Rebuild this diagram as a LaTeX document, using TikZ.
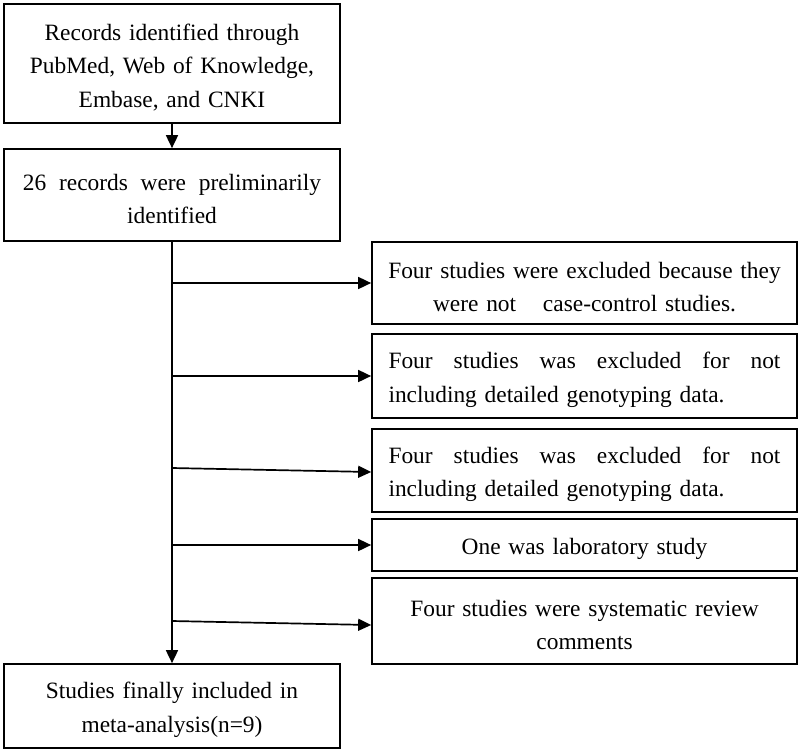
\documentclass[tikz,border=0pt]{standalone}
\usepackage{fontspec}
\setmainfont{Liberation Serif}
\usetikzlibrary{arrows.meta,calc}
\newcommand\tstr{\rule{0pt}{24pt}}
\begin{document}
\begin{tikzpicture}[x=1pt,y=-1pt,
  box/.style={draw,line width=1.7pt,inner sep=0pt,font=\fontsize{23.4}{33.5}\selectfont,align=center},
  rbox/.style={box,minimum width=425pt,text width=392pt},
  arr/.style={line width=1.7pt,-{Triangle[length=13pt,width=12pt]}}]
\useasboundingbox (0,0) rectangle (800,753);
% left column
\node[box,minimum width=336pt,minimum height=119pt,text width=320pt] (rec) at (172,63.5)
  {\tstr Records identified through\\PubMed, Web of Knowledge,\\Embase, and CNKI};
\node[box,minimum width=336pt,minimum height=92pt,text width=298pt] (pre) at (172,195)
  {\tstr\hbox to 298pt{26\hfill records\hfill were\hfill preliminarily}\\identified};
\node[box,minimum width=336pt,minimum height=84pt,text width=320pt] (fin) at (172,706)
  {\tstr Studies finally included in\\meta-analysis(n=9)};
% right column
\node[box,minimum width=425pt,text width=420pt,minimum height=82pt] (exA) at (584.5,283)
  {\tstr Four studies were excluded because they\\were not \hspace{19pt}case-control studies.};
\node[rbox,minimum height=84pt,align=left] (exB) at (584.5,376)
  {\tstr\hbox to 392pt{Four\hfill studies\hfill was\hfill excluded\hfill for\hfill not}\\including detailed genotyping data.};
\node[rbox,minimum height=83pt,align=left] (exC) at (584.5,470.5)
  {\tstr\hbox to 392pt{Four\hfill studies\hfill was\hfill excluded\hfill for\hfill not}\\including detailed genotyping data.};
\node[rbox,minimum height=52pt] (exD) at (584.5,545)
  {\tstr One was laboratory study};
\node[rbox,minimum height=86pt] (exE) at (584.5,621)
  {\tstr Four studies were systematic review\\comments};
% connectors
\draw[arr] (rec.south) -- (pre.north);
\draw[arr] (pre.south) -- (pre.south |- fin.north);
\draw[arr] (pre.south |- exA.west) -- (exA.west);
\draw[arr] (pre.south |- exB.west) -- (exB.west);
\coordinate (cC) at ($(pre.south |- exC.west)+(0,-2.5)$);
\draw[arr] (cC) -- ($(exC.west)+(0,1.5)$);
\draw[arr] (pre.south |- exD.west) -- (exD.west);
\coordinate (cE) at ($(pre.south |- exE.west)+(0,0)$);
\draw[arr] (cE) -- ($(exE.west)+(0,4)$);
\end{tikzpicture}
\end{document}
